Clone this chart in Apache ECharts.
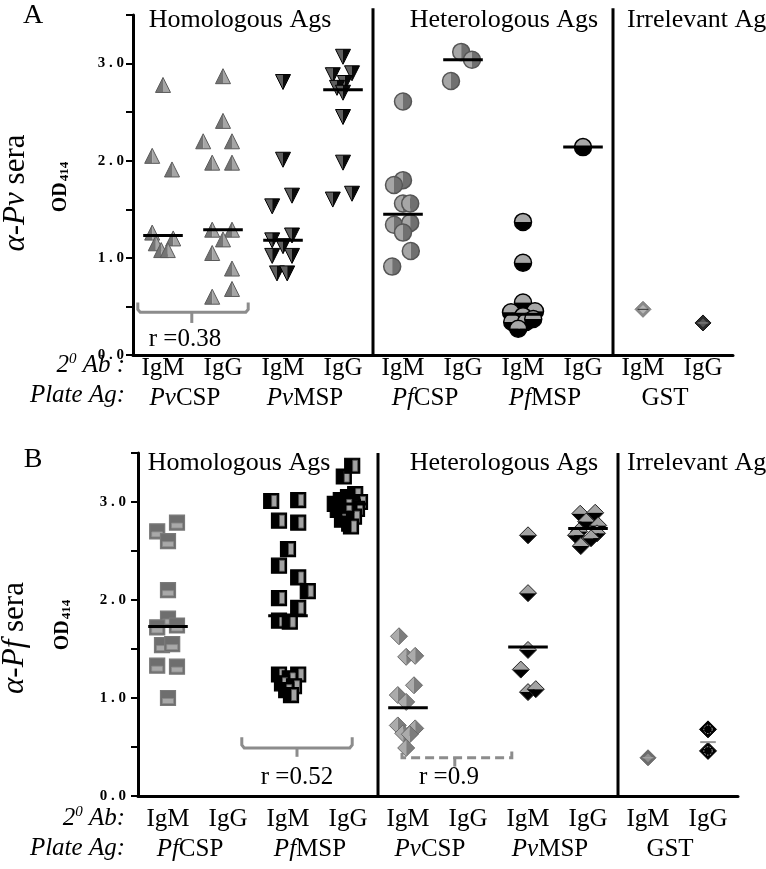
<!DOCTYPE html>
<html><head><meta charset="utf-8">
<script src="https://cdn.jsdelivr.net/npm/echarts@6/dist/echarts.min.js"></script>
<style>html,body{margin:0;padding:0;background:#fff}#c{width:766px;height:869px}</style>
</head><body><div id="c"></div>
<script>
// ---------- categories / tick labels ----------
const abLabels = ['IgM','IgG','IgM','IgG','IgM','IgG','IgM','IgG','IgM','IgG'];
const plateA = ['{i|Pv}CSP','{i|Pv}MSP','{i|Pf}CSP','{i|Pf}MSP','GST'];
const plateB = ['{i|Pf}CSP','{i|Pf}MSP','{i|Pv}CSP','{i|Pv}MSP','GST'];
const groupTitles = ['Homologous Ags','Heterologous Ags','Irrelevant Ags'];

// ---------- Panel A (alpha-Pv sera): [category position incl. jitter, OD414] ----------
const aPvCspIgM = [[0,2.78],[-0.18,2.05],[0.15,1.91],[-0.18,1.26],[0.17,1.20],[-0.12,1.15],[-0.03,1.08],[0.08,1.08]];
const aPvCspIgG = [[1,2.87],[1,2.41],[0.67,2.20],[1.15,2.20],[0.82,1.98],[1.15,1.98],[0.82,1.29],[1.15,1.29],[1,1.19],[0.82,1.05],[1.15,0.89],[1.15,0.68],[0.82,0.60]];
const aPvMspIgM = [[2,2.81],[2,2.01],[2.15,1.64],[1.82,1.53],[2.15,1.23],[1.82,1.18],[2,1.12],[1.82,1.02],[2.15,1.02],[1.9,0.84],[2.07,0.84]];
const aPvMspIgG = [[3,3.07],[2.83,2.88],[3.15,2.90],[3.03,2.80],[2.9,2.75],[3,2.70],[3,2.45],[3,1.98],[3.15,1.66],[2.83,1.60]];
const aPfCspIgM = [[4,2.61],[4,1.80],[3.85,1.75],[4,1.56],[4.12,1.56],[3.85,1.34],[4.12,1.36],[4,1.26],[4.13,1.07],[3.82,0.91]];
const aPfCspIgG = [[4.97,3.12],[5.15,3.04],[4.8,2.82]];
const aPfMspIgM = [[6,1.37],[6,0.95],[6,0.54],[5.8,0.44],[6.2,0.45],[6,0.40],[5.82,0.34],[6.05,0.34],[6.17,0.37],[5.92,0.27]];
const aPfMspIgG = [[7,2.14]];
const aGstIgM = [[8,0.47]];
const aGstIgG = [[9,0.33]];
const aMedians = [[0,1.23],[1,1.29],[2,1.18],[3,2.73],[4,1.45],[5,3.04],[6,0.42],[7,2.14]];

// ---------- Panel B (alpha-Pf sera) ----------
const bPfCspIgM = [[0.15,2.79],[-0.18,2.70],[0,2.60],[0,2.10],[0,1.81],[-0.18,1.72],[0.15,1.74],[-0.1,1.54],[0.07,1.55],[-0.18,1.33],[0.15,1.32],[0,1.00]];
const bPfMspIgM = [[1.72,3.01],[2.17,3.02],[1.85,2.81],[2.17,2.79],[2,2.52],[1.85,2.35],[2.17,2.23],[2.33,2.09],[1.85,2.02],[2.17,1.92],[1.85,1.79],[2.03,1.78],[1.85,1.24],[2.17,1.24],[2.03,1.20],[1.9,1.15],[2.1,1.12],[1.97,1.08],[2.05,1.03]];
const bPfMspIgG = [[2.93,3.26],[3.07,3.37],[2.78,2.98],[2.88,3.02],[3.0,3.05],[3.12,3.08],[3.2,3.0],[2.83,2.92],[2.95,2.90],[3.08,2.95],[3.15,2.93],[2.9,2.82],[3.02,2.78],[3.1,2.85],[2.97,2.97],[3.05,2.75]];
const bPvCspIgM = [[3.85,1.63],[3.97,1.42],[4.12,1.43],[4.1,1.13],[3.83,1.03],[3.97,0.96],[3.83,0.72],[4.12,0.69],[3.92,0.64],[4.03,0.63],[3.97,0.49]];
const bPvMspIgM = [[6,2.66],[6,2.07],[6,1.49],[5.88,1.29],[6,1.06],[6.13,1.09]];
const bPvMspIgG = [[6.87,2.88],[7.12,2.89],[6.97,2.80],[7.17,2.76],[6.85,2.70],[7.15,2.68],[6.8,2.66],[7.05,2.63],[6.88,2.55]];
const bGstIgM = [[8,0.39]];
const bGstIgG = [[9,0.68],[9,0.46]];
const bMedians = [[0,1.73],[2,1.84],[3,2.98],[4,0.90],[6,1.52],[7,2.73]];
const bGstMedians = [[9,0.55]];

// ---------- rendering ----------
const FF = '"Liberation Serif","Times New Roman",serif';
const chart = echarts.init(document.getElementById('c'), null, {renderer:'canvas'});

const K = {
  triUp:   {shape:'triUp',  c1:'#747474', c2:'#a6a6a6', stroke:'#5a5a5a', s:15},
  triDown: {shape:'triDown',c1:'#5e5e5e', c2:'#0a0a0a', stroke:'#000', s:15},
  circV:   {shape:'circle', split:'v', c1:'#a6a6a6', c2:'#707070', stroke:'#555', s:17},
  circH:   {shape:'circle', split:'h', c1:'#a8a8a8', c2:'#000', stroke:'#000', s:17},
  sqH:     {shape:'sqH', c1:'#6e6e6e', c2:'#a9a9a9', stroke:'#7a7a7a', s:15},
  sqV:     {shape:'sqV', c1:'#000', c2:'#a3a3a3', stroke:'#000', s:15},
  dmV:     {shape:'dmV', c1:'#ababab', c2:'#7d7d7d', stroke:'#6a6a6a', s:17},
  dmH:     {shape:'dmH', c1:'#a3a3a3', c2:'#000', stroke:'#222', s:17},
  gstA1:   {shape:'gst', c1:'#8a8a8a', c2:'#b5b5b5', stroke:'#7a7a7a', s:16, line:'#333'},
  gstA2:   {shape:'gst', c1:'#2a2a2a', c2:'#555', stroke:'#111', s:16, line:'#888'},
  gstB1:   {shape:'gst', c1:'#6c6c6c', c2:'#8f8f8f', stroke:'#666', s:16, line:'#aaa'},
  gstB2:   {shape:'gst', c1:'#000', c2:'#000', stroke:'#000', s:17, line:'#999', dots:true}
};

function poly(points, fill, stroke, lw) {
  return {type:'polygon', shape:{points}, style:{fill: fill || 'none', stroke: stroke || null, lineWidth: lw || 0}};
}
function drawMarker(k, x, y) {
  const s = k.s, h = s / 2, ch = [];
  if (k.shape === 'triUp' || k.shape === 'triDown') {
    const up = k.shape === 'triUp';
    const ay = up ? y - h : y + h, by = up ? y + h : y - h;
    ch.push(poly([[x, ay], [x, by], [x - h, by]], k.c1));
    ch.push(poly([[x, ay], [x + h, by], [x, by]], k.c2));
    ch.push(poly([[x, ay], [x + h, by], [x - h, by]], null, k.stroke, 1));
  } else if (k.shape === 'circle') {
    const r = h;
    const a = k.split === 'v' ? [[Math.PI/2, Math.PI*1.5], [-Math.PI/2, Math.PI/2]] : [[Math.PI, Math.PI*2], [0, Math.PI]];
    ch.push({type:'sector', shape:{cx:x, cy:y, r, r0:0, startAngle:a[0][0], endAngle:a[0][1], clockwise:true}, style:{fill:k.c1}});
    ch.push({type:'sector', shape:{cx:x, cy:y, r, r0:0, startAngle:a[1][0], endAngle:a[1][1], clockwise:true}, style:{fill:k.c2}});
    ch.push({type:'circle', shape:{cx:x, cy:y, r}, style:{fill:'none', stroke:k.stroke, lineWidth:1.5}});
  } else if (k.shape === 'sqH') {
    ch.push({type:'rect', shape:{x:x-h, y:y-h, width:s, height:s}, style:{fill:k.c1, stroke:k.stroke, lineWidth:1.2}});
    ch.push({type:'rect', shape:{x:x-h+2, y:y+0.5, width:s-4, height:h-2.5}, style:{fill:k.c2, stroke:'#8a8a8a', lineWidth:0.8}});
  } else if (k.shape === 'sqV') {
    ch.push({type:'rect', shape:{x:x-h, y:y-h, width:s, height:s}, style:{fill:k.c1, stroke:k.stroke, lineWidth:1.2}});
    ch.push({type:'rect', shape:{x:x+0.5, y:y-h+2, width:h-2.5, height:s-4}, style:{fill:k.c2, stroke:'#555', lineWidth:0.8}});
  } else if (k.shape === 'dmV' || k.shape === 'dmH') {
    const T = [x, y-h], R = [x+h, y], B = [x, y+h], L = [x-h, y];
    if (k.shape === 'dmV') { ch.push(poly([T, B, L], k.c1)); ch.push(poly([T, R, B], k.c2)); }
    else { ch.push(poly([L, T, R], k.c1)); ch.push(poly([L, R, B], k.c2)); }
    ch.push(poly([T, R, B, L], null, k.stroke, 1));
  } else if (k.shape === 'gst') {
    const T = [x, y-h], R = [x+h, y], B = [x, y+h], L = [x-h, y];
    ch.push(poly([T, R, B, L], k.c1, k.stroke, 1));
    const q = h * 0.55;
    if (k.dots) {
      ch.push({type:'circle', shape:{cx:x, cy:y, r:q*0.9}, style:{fill:'none', stroke:'#bbb', lineWidth:1, lineDash:[1.5,1.5]}});
    } else {
      ch.push(poly([[x, y-q], [x+q, y], [x, y+q], [x-q, y]], k.c2));
      ch.push({type:'line', shape:{x1:x-q-1, y1:y, x2:x+q+1, y2:y}, style:{stroke:k.line, lineWidth:1}});
    }
  }
  return {type:'group', children:ch};
}

function pointSeries(g, data, kind) {
  return {type:'custom', xAxisIndex: g*3+2, yAxisIndex: g, data, clip:false, z:3,
    renderItem: (p, api) => { const c = api.coord([api.value(0), api.value(1)]); return drawMarker(K[kind], c[0], c[1]); }};
}
function medianSeries(g, data, half, color, lw) {
  return {type:'custom', xAxisIndex: g*3+2, yAxisIndex: g, data, clip:false, z:5,
    renderItem: (p, api) => {
      const a = api.coord([api.value(0) - half, api.value(1)]), b = api.coord([api.value(0) + half, api.value(1)]);
      return {type:'line', shape:{x1:a[0], y1:a[1], x2:b[0], y2:b[1]}, style:{stroke:color, lineWidth:lw}};
    }};
}
function pathSeries(g, paths, style) {
  return {type:'custom', xAxisIndex: g*3+2, yAxisIndex: g, data:[[0,0]], clip:false, z:2,
    renderItem: (p, api) => ({type:'group', children: paths.map(pts => ({type:'polyline', shape:{points: pts.map(q => api.coord(q))}, style: Object.assign({fill:'none', stroke:'#000', lineWidth:3}, style)}))})};
}

function axesFor(g, left, top, labelMargin, plateMargin, plates, yMargin) {
  return {
    grid: {left, top, width:600, height: g === 0 ? 340 : 343},
    xAxis: [
      {gridIndex:g, type:'category', data:abLabels, position:'bottom', boundaryGap:true,
       axisLine:{onZero:false, lineStyle:{color:'#000', width:3}}, axisTick:{alignWithLabel:true, length:7, lineStyle:{color:'#000', width:2.5}},
       axisLabel:{color:'#000', fontFamily:FF, fontSize:25, margin:labelMargin, interval:0}, splitLine:{show:false}},
      {gridIndex:g, type:'category', data:plates, position:'bottom', boundaryGap:true,
       axisLine:{show:false, onZero:false}, axisTick:{show:false},
       axisLabel:{color:'#000', fontFamily:FF, fontSize:25, margin:plateMargin, interval:0, padding:[0,16,0,0],
         rich:{i:{fontStyle:'italic', fontFamily:FF, fontSize:25, color:'#000'}}}, splitLine:{show:false}},
      {gridIndex:g, type:'value', min:-0.5, max:9.5, show:false, position:'top', axisLine:{onZero:false}}
    ],
    yAxis: {gridIndex:g, type:'value', min:0, max:3.5, interval:0.5, position:'left',
      axisLine:{show:true, onZero:false, lineStyle:{color:'#000', width:3}}, axisTick:{show:true, length:7, lineStyle:{color:'#000', width:2}},
      splitLine:{show:false},
      axisLabel:{color:'#000', fontFamily:FF, fontWeight:'bold', fontSize:15, margin:yMargin,
        formatter: v => (Math.abs(v - Math.round(v)) < 1e-6 && v <= 3) ? v.toFixed(1).split('').join(' ') : ''}}
  };
}
const A = axesFor(0, 133, 15, 1, 31, plateA, 9);
const B = axesFor(1, 138, 453, 11, 41, plateB, 12);

function txt(x, y, text, o) {
  o = o || {};
  return {type:'text', x, y, rotation:o.rot || 0, z:10,
    style: {text, fill:'#000', fontFamily:FF, fontSize:o.size || 25, fontStyle:o.italic ? 'italic' : 'normal',
      fontWeight:o.bold ? 'bold' : 'normal', align:o.align || 'center', verticalAlign:'middle', rich:o.rich}};
}
const richY = {i:{fontStyle:'italic', fontFamily:FF, fontSize:31, fill:'#000'}};
const richOD = {b:{fontWeight:'bold', fontFamily:FF, fontSize:20, fill:'#000'}, s:{fontWeight:'bold', fontFamily:FF, fontSize:13, fill:'#000', verticalAlign:'bottom', padding:[7,0,0,1]}};
const richSup = {sup:{fontStyle:'italic', fontFamily:FF, fontSize:15, fill:'#000', padding:[0,0,11,0]}};

const graphics = [
  txt(33, 16, 'A', {size:28}), txt(33, 460, 'B', {size:28}),
  txt(16, 193, '{i|α-Pv} sera', {size:31, rot:Math.PI/2, rich:richY}),
  txt(15, 638, '{i|α-Pf} sera', {size:31, rot:Math.PI/2, rich:richY}),
  txt(61, 187, '{b|OD}{s|414}', {rot:Math.PI/2, rich:richOD}),
  txt(63, 625, '{b|OD}{s|414}', {rot:Math.PI/2, rich:richOD}),
  txt(240, 20, groupTitles[0], {size:26}), txt(504, 20, groupTitles[1], {size:26}), txt(627, 20, groupTitles[2], {size:26, align:'left'}),
  txt(239, 463, groupTitles[0], {size:26}), txt(504, 463, groupTitles[1], {size:26}), txt(627, 463, groupTitles[2], {size:26, align:'left'}),
  txt(125, 365, '2{sup|0} Ab :', {italic:true, align:'right', rich:richSup}),
  txt(125, 395, 'Plate Ag:', {italic:true, align:'right'}),
  txt(125, 818, '2{sup|0} Ab:', {italic:true, align:'right', rich:richSup}),
  txt(125, 848, 'Plate Ag:', {italic:true, align:'right'}),
  txt(185, 339, 'r =0.38'), txt(297, 777, 'r =0.52'), txt(449, 777, 'r =0.9')
];

const series = [
  pathSeries(0, [[[3.5,0],[3.5,3.57]], [[7.5,0],[7.5,3.57]]], {lineWidth:3}),
  pathSeries(1, [[[3.5,0],[3.5,3.5]], [[7.5,0],[7.5,3.5]]], {lineWidth:3}),
  pathSeries(0, [[[-0.42,0.54],[-0.42,0.47],[-0.38,0.44],[1.38,0.44],[1.42,0.47],[1.42,0.54]], [[0.48,0.44],[0.48,0.33]]], {stroke:'#8c8c8c', lineWidth:3}),
  pathSeries(1, [[[1.23,0.60],[1.23,0.52],[1.27,0.49],[3.03,0.49],[3.07,0.52],[3.07,0.60]], [[2.15,0.49],[2.15,0.40]]], {stroke:'#8c8c8c', lineWidth:3}),
  pathSeries(1, [[[3.9,0.44],[3.9,0.39],[5.73,0.39],[5.73,0.50]], [[4.78,0.39],[4.78,0.30]]], {stroke:'#8c8c8c', lineWidth:3, lineDash:[9,5]}),
  pointSeries(0, aPvCspIgM, 'triUp'), pointSeries(0, aPvCspIgG, 'triUp'),
  pointSeries(0, aPvMspIgM, 'triDown'), pointSeries(0, aPvMspIgG, 'triDown'),
  pointSeries(0, aPfCspIgM, 'circV'), pointSeries(0, aPfCspIgG, 'circV'),
  pointSeries(0, aPfMspIgM, 'circH'), pointSeries(0, aPfMspIgG, 'circH'),
  pointSeries(0, aGstIgM, 'gstA1'), pointSeries(0, aGstIgG, 'gstA2'),
  medianSeries(0, aMedians, 0.33, '#000', 3),
  pointSeries(1, bPfCspIgM, 'sqH'), pointSeries(1, bPfMspIgM, 'sqV'), pointSeries(1, bPfMspIgG, 'sqV'),
  pointSeries(1, bPvCspIgM, 'dmV'), pointSeries(1, bPvMspIgM, 'dmH'), pointSeries(1, bPvMspIgG, 'dmH'),
  pointSeries(1, bGstIgM, 'gstB1'), pointSeries(1, bGstIgG, 'gstB2'),
  medianSeries(1, bMedians, 0.33, '#000', 3),
  medianSeries(1, bGstMedians, 0.13, '#999', 2)
];

chart.setOption({
  animation:false,
  backgroundColor:'#fff',
  grid:[A.grid, B.grid],
  xAxis:[...A.xAxis, ...B.xAxis],
  yAxis:[A.yAxis, B.yAxis],
  graphic:graphics,
  series
});
</script></body></html>
